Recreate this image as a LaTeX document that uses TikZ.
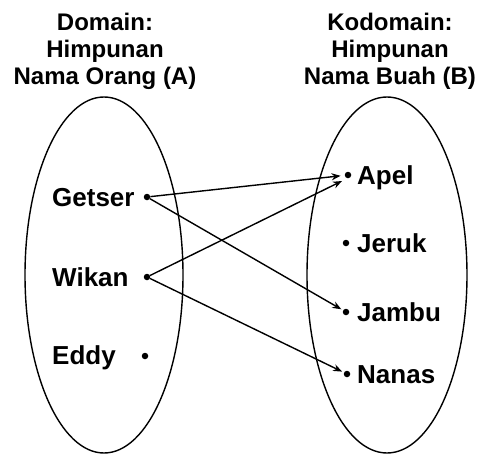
\documentclass[tikz,border=0pt]{standalone}
\usepackage{fontspec}
\setmainfont{Liberation Sans}
\usetikzlibrary{arrows.meta}
\begin{document}
\begin{tikzpicture}[x=1pt,y=-1pt,
  setline/.style={line width=1.4pt},
  pt/.style={circle,fill=black,inner sep=0pt,minimum size=6.5pt},
  lbl/.style={font=\bfseries\fontsize{26}{28}\selectfont,inner sep=0pt,text height=18.6pt,text depth=0pt},
  ttl/.style={font=\bfseries\fontsize{24}{27}\selectfont,inner sep=0pt,align=center,anchor=north},
  maparrow/.style={line width=1.4pt,-{Stealth[length=9pt,width=7pt]},shorten >=2pt}]
\useasboundingbox (0,0) rectangle (480,455);
% the two sets
\draw[setline] (104,275) ellipse [x radius=79, y radius=178];
\draw[setline] (387,275) ellipse [x radius=80, y radius=178];
% headings
\node[ttl] (tA) at (105,13) {Domain:\\Himpunan\\Nama Orang (A)};
\node[ttl] (tB) at (390,13) {Kodomain:\\Himpunan\\Nama Buah (B)};
% members of A
\node[pt] (getser) at (147,197) {};
\node[pt] (wikan) at (147,277) {};
\node[pt] (eddy) at (145,356) {};
\node[lbl,anchor=west] (lgetser) at (52,197) {Getser};
\node[lbl,anchor=west] (lwikan) at (52,277) {Wikan};
\node[lbl,anchor=west] (leddy) at (52,355) {Eddy};
% members of B
\node[pt] (apel) at (348,175) {};
\node[pt] (jeruk) at (346,243) {};
\node[pt] (jambu) at (346,312) {};
\node[pt] (nanas) at (347,374) {};
\node[lbl,anchor=west] (lapel) at (357,175) {Apel};
\node[lbl,anchor=west] (ljeruk) at (357,243) {Jeruk};
\node[lbl,anchor=west] (ljambu) at (357,312) {Jambu};
\node[lbl,anchor=west] (lnanas) at (357,374) {Nanas};
% the relation
\coordinate (apelend) at (342,181);
\draw[maparrow,shorten >=4pt] (getser) -- (apel);
\draw[maparrow] (getser) -- (jambu);
\draw[maparrow,shorten >=0pt] (wikan) -- (apelend);
\draw[maparrow] (wikan) -- (nanas);
\end{tikzpicture}
\end{document}
